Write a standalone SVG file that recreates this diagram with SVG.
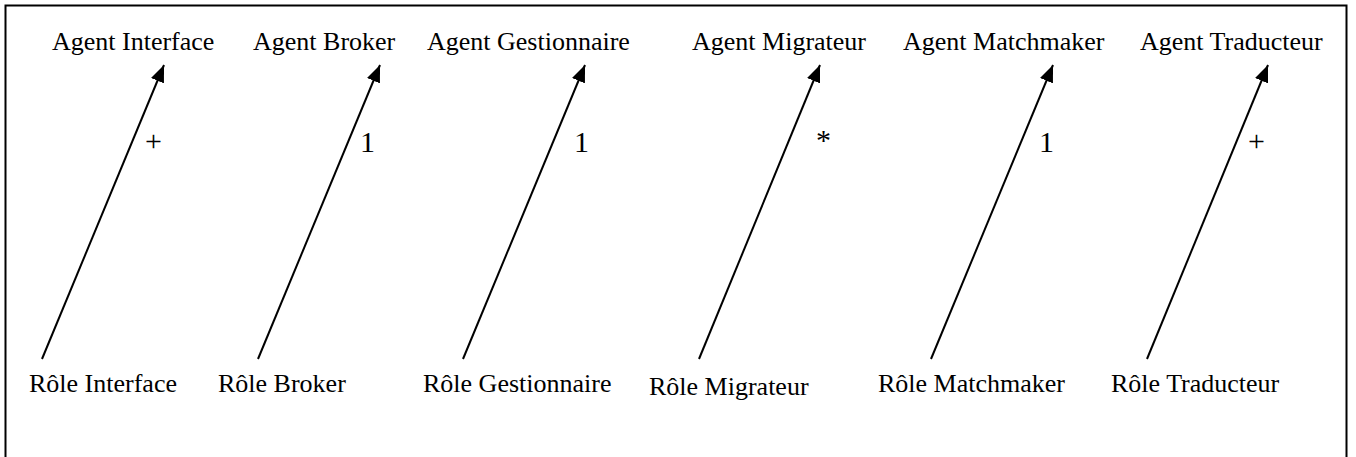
<svg xmlns="http://www.w3.org/2000/svg" width="1356" height="457" viewBox="0 0 1356 457">
  <style>
    .lbl { font-family: "Liberation Serif", "Times New Roman", serif; font-size: 26px; fill: #000; }
    .mult { font-family: "Liberation Serif", "Times New Roman", serif; font-size: 30px; fill: #000; }
    .link { stroke: #000; stroke-width: 2; fill: none; marker-end: url(#head); }
  </style>
  <defs>
    <marker id="head" markerUnits="userSpaceOnUse" markerWidth="18" markerHeight="14" refX="17" refY="7" orient="auto">
      <path d="M0,0 L17,7 L0,14 Z" fill="#000"/>
    </marker>
  </defs>
  <rect x="0" y="0" width="1356" height="457" fill="#fff"/>
  <!-- outer frame (bottom edge runs past the page) -->
  <rect x="5.5" y="5.5" width="1341" height="470" fill="none" stroke="#000" stroke-width="2"/>

  <g id="agent-interface"><text class="lbl" x="52" y="50">Agent Interface</text></g>
  <g id="agent-broker"><text class="lbl" x="253" y="50">Agent Broker</text></g>
  <g id="agent-gestionnaire"><text class="lbl" x="427" y="50">Agent Gestionnaire</text></g>
  <g id="agent-migrateur"><text class="lbl" x="692" y="50">Agent Migrateur</text></g>
  <g id="agent-matchmaker"><text class="lbl" x="903" y="50">Agent Matchmaker</text></g>
  <g id="agent-traducteur"><text class="lbl" x="1140" y="50">Agent Traducteur</text></g>

  <g id="role-interface"><text class="lbl" x="29" y="392">Rôle Interface</text></g>
  <g id="role-broker"><text class="lbl" x="218" y="392">Rôle Broker</text></g>
  <g id="role-gestionnaire"><text class="lbl" x="423" y="392">Rôle Gestionnaire</text></g>
  <g id="role-migrateur"><text class="lbl" x="649" y="395">Rôle Migrateur</text></g>
  <g id="role-matchmaker"><text class="lbl" x="878" y="392">Rôle Matchmaker</text></g>
  <g id="role-traducteur"><text class="lbl" x="1111" y="392">Rôle Traducteur</text></g>

  <g id="connectors">
    <line class="link" x1="42" y1="359" x2="164" y2="65"/>
    <line class="link" x1="258" y1="359" x2="380" y2="65"/>
    <line class="link" x1="463" y1="359" x2="585" y2="65"/>
    <line class="link" x1="699" y1="359" x2="820" y2="65"/>
    <line class="link" x1="931" y1="359" x2="1053" y2="65"/>
    <line class="link" x1="1147" y1="359" x2="1268" y2="65"/>
    <text class="mult" x="145" y="151">+</text>
    <text class="mult" x="360" y="152">1</text>
    <text class="mult" x="574" y="152">1</text>
    <text class="mult" x="816" y="150">*</text>
    <text class="mult" x="1039" y="152">1</text>
    <text class="mult" x="1248" y="151">+</text>
  </g>
</svg>
